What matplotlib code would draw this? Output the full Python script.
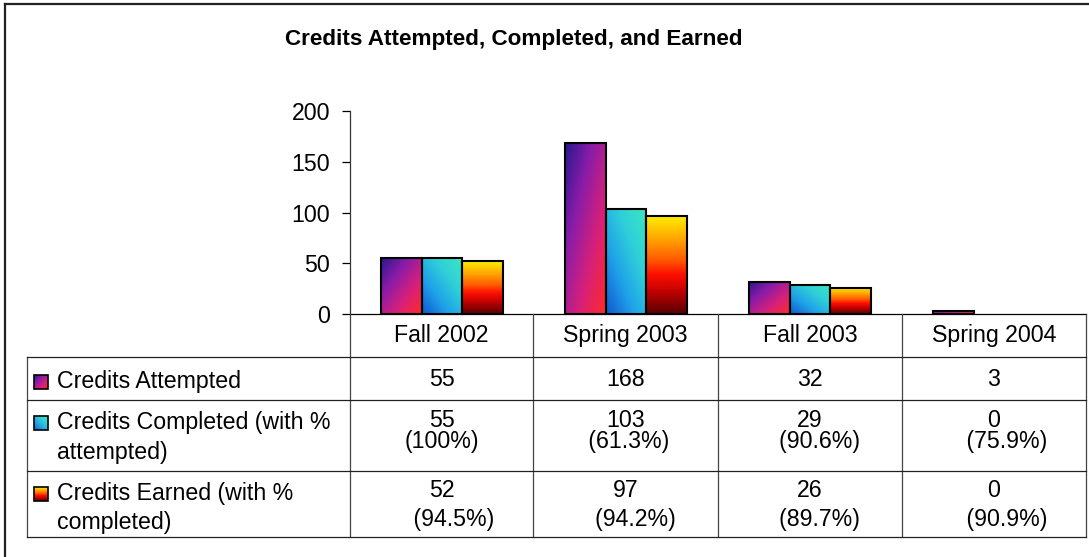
import numpy as np
import matplotlib
matplotlib.use("Agg")
import matplotlib.pyplot as plt
from matplotlib.colors import LinearSegmentedColormap
from matplotlib.patches import Rectangle

periods = ["Fall 2002", "Spring 2003", "Fall 2003", "Spring 2004"]
attempted = [55, 168, 32, 3]
completed = [55, 103, 29, 0]
earned = [52, 97, 26, 0]
completed_pct = ["(100%)", " (61.3%)", "   (90.6%)", "    (75.9%)"]
earned_pct = ["    (94.5%)", "   (94.2%)", "   (89.7%)", "    (90.9%)"]
row_labels = [["Credits Attempted"],
              ["Credits Completed (with %", "attempted)"],
              ["Credits Earned (with %", "completed)"]]
yticks = [0, 50, 100, 150, 200]

plt.rcParams['font.family'] = ['Liberation Sans', 'DejaVu Sans']
FS = 16.7

W, H = 1089, 557
fig = plt.figure(figsize=(W / 100, H / 100), dpi=100)
fig.patch.set_facecolor("white")

cm_att = LinearSegmentedColormap.from_list("att", ["#2a1890", "#8a1ca8", "#d8207a", "#ff2a28"])
cm_com = LinearSegmentedColormap.from_list("com", ["#1058d0", "#1ea0e8", "#30d0d8", "#3ae6c0"])
cm_ear = LinearSegmentedColormap.from_list("ear", [(0, "#5a0000"), (0.22, "#c00000"), (0.4, "#ff1000"),
                                                   (0.55, "#ff5a00"), (0.75, "#ffa000"), (1, "#ffee00")])


def grad(kind, n=64):
    u = np.linspace(0, 1, n)
    X, R = np.meshgrid(u, u)  # R: 0 top -> 1 bottom
    if kind == "diag":
        return (X + R) / 2
    if kind == "diag_up":
        return (X + (1 - R)) / 2
    return 1 - R


def fill(ax, patch, extent, cmap, kind):
    im = ax.imshow(grad(kind), cmap=cmap, extent=extent, origin="upper",
                   aspect="auto", interpolation="bilinear", zorder=2, vmin=0, vmax=1)
    im.set_clip_path(patch)


# ---- chart ----
x0, x1, y0, y1 = 350, 1086, 314, 111
ax = fig.add_axes([x0 / W, 1 - y0 / H, (x1 - x0) / W, (y0 - y1) / H])
ax.set_facecolor("none")
x = np.arange(len(periods))
bw = 1 / 4.5
series = [(attempted, cm_att, "diag"), (completed, cm_com, "diag_up"), (earned, cm_ear, "vert")]
for i, (vals, cm, kind) in enumerate(series):
    bars = ax.bar(x + (i - 1) * bw, vals, bw, facecolor="none", edgecolor="black",
                  linewidth=1.5, zorder=3)
    for b in bars:
        h = b.get_height()
        if h > 0:
            fill(ax, b, (b.get_x(), b.get_x() + b.get_width(), 0, h), cm, kind)
        else:
            b.set_linewidth(0)

ax.set_xlim(-0.5, len(periods) - 0.5)
ax.set_ylim(0, 200)
ax.set_yticks(yticks)
ax.set_xticks([])
ax.tick_params(axis="y", length=5.8, width=0.9, pad=8.5, labelsize=FS, colors="black")
for s in ["top", "right"]:
    ax.spines[s].set_visible(False)
ax.spines["left"].set_linewidth(0.9)
ax.spines["left"].set_color("#333333")
ax.spines["bottom"].set_linewidth(0.9)

# ---- overlay in pixel coordinates: title, table, frame ----
ov = fig.add_axes([0, 0, 1, 1])
ov.set_xlim(0, W)
ov.set_ylim(H, 0)
ov.axis("off")

ov.plot([5, 5], [4, H], color="#222222", lw=1.6)
ov.plot([5, W], [4, 4], color="#222222", lw=1.6)

ov.text(514, 45, "Credits Attempted, Completed, and Earned", ha="center", va="baseline",
        fontsize=16.2, fontweight="bold")

col_edges = [350, 533, 718, 902, 1086]
row_edges = [357, 400, 471, 537]
for xe in col_edges:
    ov.plot([xe, xe], [314, 537], color="#444444", lw=0.9)
ov.plot([27, 27], [357, 537], color="#444444", lw=0.9)
for ye in row_edges:
    ov.plot([27, 1086], [ye, ye], color="#222222", lw=0.9)

centers = [(col_edges[k] + col_edges[k + 1]) / 2 for k in range(4)]
for k, p in enumerate(periods):
    ov.text(centers[k], 342, p, ha="center", va="baseline", fontsize=FS)
    ov.text(centers[k], 386, str(attempted[k]), ha="center", va="baseline", fontsize=FS)
    ov.text(centers[k], 427, str(completed[k]), ha="center", va="baseline", fontsize=FS)
    ov.text(centers[k], 448, completed_pct[k], ha="center", va="baseline", fontsize=FS)
    ov.text(centers[k], 497, str(earned[k]), ha="center", va="baseline", fontsize=FS)
    ov.text(centers[k], 526, earned_pct[k], ha="center", va="baseline", fontsize=FS)

label_base = [388, 429, 500]
key_top = [375, 416, 487]
for r, (lines, (vals, cm, kind)) in enumerate(zip(row_labels, series)):
    for j, line in enumerate(lines):
        ov.text(57, label_base[r] + 29.5 * j, line, ha="left", va="baseline", fontsize=FS)
    key = Rectangle((34, key_top[r]), 14, 14, facecolor="none", edgecolor="black", lw=1.2, zorder=3)
    ov.add_patch(key)
    fill(ov, key, (34, 48, key_top[r] + 14, key_top[r]), cm, kind)

ov.set_xlim(0, W)
ov.set_ylim(H, 0)

fig.savefig("out.png", dpi=100)
